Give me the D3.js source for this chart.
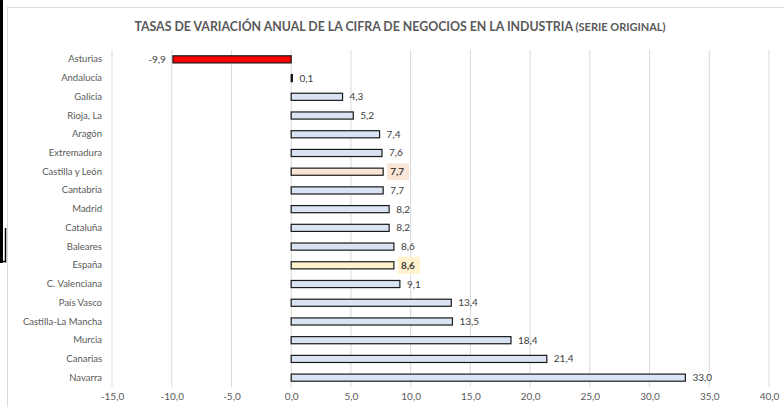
<!DOCTYPE html>
<html>
<head>
<meta charset="utf-8">
<script src="https://cdn.jsdelivr.net/npm/d3@7"></script>
<style>
  body { margin: 0; background: #fff; }
  svg { display: block; font-family: Lato, "Open Sans", sans-serif; }
</style>
</head>
<body>
<div id="main"></div>
<script>
// categories (top to bottom) and annual variation rates
const regions = ["Asturias", "Andalucía", "Galicia", "Rioja, La", "Aragón", "Extremadura",
  "Castilla y León", "Cantabria", "Madrid", "Cataluña", "Baleares", "España",
  "C. Valenciana", "País Vasco", "Castilla-La Mancha", "Murcia", "Canarias", "Navarra"];
const values = [-9.9, 0.1, 4.3, 5.2, 7.4, 7.6, 7.7, 7.7, 8.2, 8.2, 8.6, 8.6, 9.1, 13.4, 13.5, 18.4, 21.4, 33.0];
const tickValues = [-15, -10, -5, 0, 5, 10, 15, 20, 25, 30, 35, 40];

const data = regions.map((r, i) => ({ name: r, value: values[i] }));

const width = 784, height = 407;
const fmt = v => d3.format(".1f")(v).replace("−", "-").replace(".", ",");

const svg = d3.select("#main").append("svg")
  .attr("width", width)
  .attr("height", height);

// chart frame
svg.append("rect")
  .attr("x", 7.5).attr("y", 7.5)
  .attr("width", 820).attr("height", 440)
  .attr("fill", "#fff")
  .attr("stroke", "#d9d9d9");

// black frame edge on the left (another element behind the chart)
svg.append("path")
  .attr("d", "M1.5,0V263")
  .attr("fill", "none")
  .attr("stroke", "#000")
  .attr("stroke-width", 3)
  .attr("shape-rendering", "crispEdges");
svg.append("path")
  .attr("d", "M0,261.5H6M5.5,228V262.5")
  .attr("fill", "none")
  .attr("stroke", "#000")
  .attr("stroke-width", 1.5);

const x = d3.scaleLinear()
  .domain([-15, 40])
  .range([112, 769]);

const y = d3.scaleBand()
  .domain(regions)
  .range([50, 387])
  .paddingInner(0.62)
  .paddingOuter(0.31);

// title
const title = svg.append("text")
  .attr("x", 400).attr("y", 31)
  .attr("text-anchor", "middle")
  .attr("fill", "#595959")
  .attr("font-weight", "bold")
  .attr("font-size", "12.35px");
title.append("tspan").text("TASAS DE VARIACIÓN ANUAL DE LA CIFRA DE NEGOCIOS EN LA INDUSTRIA ");
title.append("tspan").attr("font-size", "11px").text("(SERIE ORIGINAL)");

// vertical grid lines
svg.append("g")
  .selectAll("line")
  .data(tickValues)
  .join("line")
    .attr("x1", d => x(d)).attr("x2", d => x(d))
    .attr("y1", 50).attr("y2", 387)
    .attr("stroke", "#d9d9d9")
    .attr("stroke-width", 1);

// x axis
const xAxis = svg.append("g")
  .attr("transform", "translate(0,387)")
  .call(d3.axisBottom(x).tickValues(tickValues).tickFormat(fmt).tickSize(0).tickPadding(6));
xAxis.select(".domain").remove();
xAxis.selectAll("text")
  .attr("fill", "#595959")
  .attr("font-size", "10px")
  .attr("font-family", "Lato, sans-serif");

// y axis (category labels)
const yAxis = svg.append("g")
  .attr("transform", "translate(102,0)")
  .call(d3.axisLeft(y).tickSize(0).tickPadding(0));
yAxis.select(".domain").remove();
yAxis.selectAll("text")
  .attr("fill", "#595959")
  .attr("font-size", "9.5px")
  .attr("font-family", "Lato, sans-serif");

const fillOf = d => d.name === "Asturias" ? "#ff0000"
  : d.name === "Castilla y León" ? "#fbe5d6"
  : d.name === "España" ? "#fff2cc"
  : "#dae3f3";

// bars
svg.append("g")
  .selectAll("rect")
  .data(data)
  .join("rect")
    .attr("x", d => x(Math.min(0, d.value)))
    .attr("y", d => y(d.name))
    .attr("width", d => Math.abs(x(d.value) - x(0)))
    .attr("height", y.bandwidth())
    .attr("fill", fillOf)
    .attr("stroke", "#1a1a1a")
    .attr("stroke-width", 1.2);

// highlight boxes behind bold labels
const boxed = data.filter(d => d.name === "Castilla y León" || d.name === "España");
svg.append("g")
  .selectAll("rect")
  .data(boxed)
  .join("rect")
    .attr("x", d => x(d.value) + 4)
    .attr("y", d => y(d.name) + y.bandwidth() / 2 - 8.5)
    .attr("width", 22)
    .attr("height", 17)
    .attr("fill", d => d.name === "España" ? "#fff2cc" : "#fbe5d6");

// value labels
svg.append("g")
  .selectAll("text")
  .data(data)
  .join("text")
    .attr("x", d => d.value < 0 ? x(d.value) - 7 : x(d.value) + 7)
    .attr("y", d => y(d.name) + y.bandwidth() / 2)
    .attr("dy", "0.35em")
    .attr("text-anchor", d => d.value < 0 ? "end" : "start")
    .attr("fill", "#404040")
    .attr("font-size", "10px")
    .attr("font-weight", d => (d.name === "Castilla y León" || d.name === "España") ? "bold" : "normal")
    .text(d => fmt(d.value));
</script>
</body>
</html>
